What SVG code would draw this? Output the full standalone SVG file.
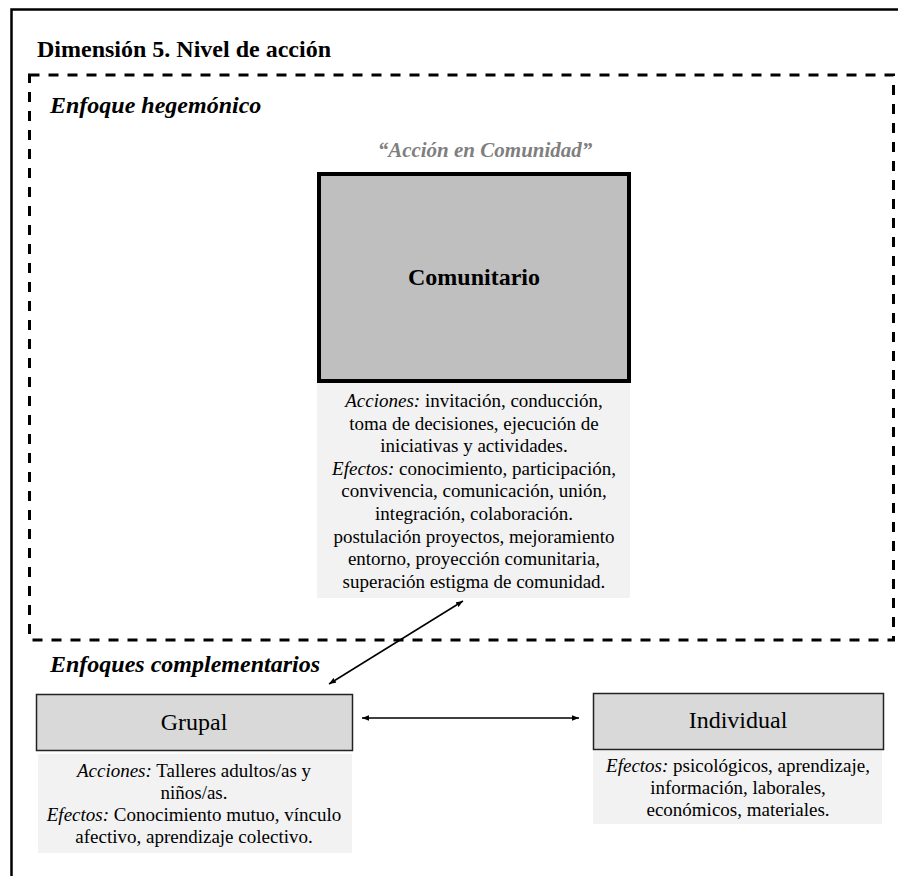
<svg xmlns="http://www.w3.org/2000/svg" width="898" height="876" viewBox="0 0 898 876">
<defs>
<style>
.h{font-size:24px;font-weight:bold}
.hi{font-size:24px;font-weight:bold;font-style:italic}
.d{font-size:19px;text-anchor:middle}
.lab{font-size:24px;text-anchor:middle}
.i{font-style:italic}
.desc{fill:#f2f2f2}
.small{fill:#d9d9d9;stroke:#222;stroke-width:1.5}
.conn{stroke:#000;stroke-width:1.5;fill:none}
</style>
<marker id="ah" viewBox="0 0 10 10" refX="10" refY="5" markerWidth="7" markerHeight="7" orient="auto-start-reverse" markerUnits="userSpaceOnUse">
<path d="M0,1 L10,5 L0,9 z" fill="#000"/>
</marker>
</defs>
<rect width="898" height="876" fill="#fff"/>
<g font-family="Liberation Serif, Times New Roman, Tinos, DejaVu Serif, serif" fill="#000">
<g id="frame">
<path d="M11.5,876 V9.5 H898" fill="none" stroke="#000" stroke-width="2.5"/>
<text class="h" x="37" y="57">Dimensión 5. Nivel de acción</text>
</g>
<g id="hegemonico">
<rect x="29.5" y="75" width="864" height="565" fill="none" stroke="#000" stroke-width="3" stroke-dasharray="10 9"/>
<text class="hi" x="50" y="113">Enfoque hegemónico</text>
</g>
<g id="comunitario">
<text x="485" y="157" text-anchor="middle" font-size="21" font-weight="bold" font-style="italic" fill="#7f7f7f">“Acción en Comunidad”</text>
<rect x="319" y="174" width="310" height="207" fill="#bfbfbf" stroke="#000" stroke-width="4"/>
<text class="lab" x="474" y="285" font-weight="bold">Comunitario</text>
<rect class="desc" x="317" y="383" width="313" height="215"/>
<text class="d" x="474" y="407"><tspan class="i">Acciones:</tspan> invitación, conducción,</text>
<text class="d" x="474" y="429.6">toma de decisiones, ejecución de</text>
<text class="d" x="474" y="452.2">iniciativas y actividades.</text>
<text class="d" x="474" y="474.8"><tspan class="i">Efectos:</tspan> conocimiento, participación,</text>
<text class="d" x="474" y="497.4">convivencia, comunicación, unión,</text>
<text class="d" x="474" y="520">integración, colaboración.</text>
<text class="d" x="474" y="542.6">postulación proyectos, mejoramiento</text>
<text class="d" x="474" y="565.2">entorno, proyección comunitaria,</text>
<text class="d" x="474" y="587.8">superación estigma de comunidad.</text>
</g>
<g id="complementarios">
<text class="hi" x="50" y="672">Enfoques complementarios</text>
</g>
<g id="grupal">
<rect class="small" x="36.5" y="694.5" width="316" height="56"/>
<text class="lab" x="194" y="730">Grupal</text>
<rect class="desc" x="38" y="754" width="314" height="99"/>
<text class="d" x="194" y="777"><tspan class="i">Acciones:</tspan> Talleres adultos/as y</text>
<text class="d" x="194" y="799">niños/as.</text>
<text class="d" x="194" y="821"><tspan class="i">Efectos:</tspan> Conocimiento mutuo, vínculo</text>
<text class="d" x="194" y="843">afectivo, aprendizaje colectivo.</text>
</g>
<g id="individual">
<rect class="small" x="593.5" y="693.5" width="290" height="56"/>
<text class="lab" x="738" y="728">Individual</text>
<rect class="desc" x="593" y="751" width="289" height="73"/>
<text class="d" x="738" y="772"><tspan class="i">Efectos:</tspan> psicológicos, aprendizaje,</text>
<text class="d" x="738" y="794">información, laborales,</text>
<text class="d" x="738" y="816">económicos, materiales.</text>
</g>
</g>
<g id="connectors">
<line class="conn" x1="329" y1="684" x2="463" y2="601" marker-start="url(#ah)" marker-end="url(#ah)"/>
<line class="conn" x1="362" y1="718" x2="579" y2="718" marker-start="url(#ah)" marker-end="url(#ah)"/>
</g>
</svg>
